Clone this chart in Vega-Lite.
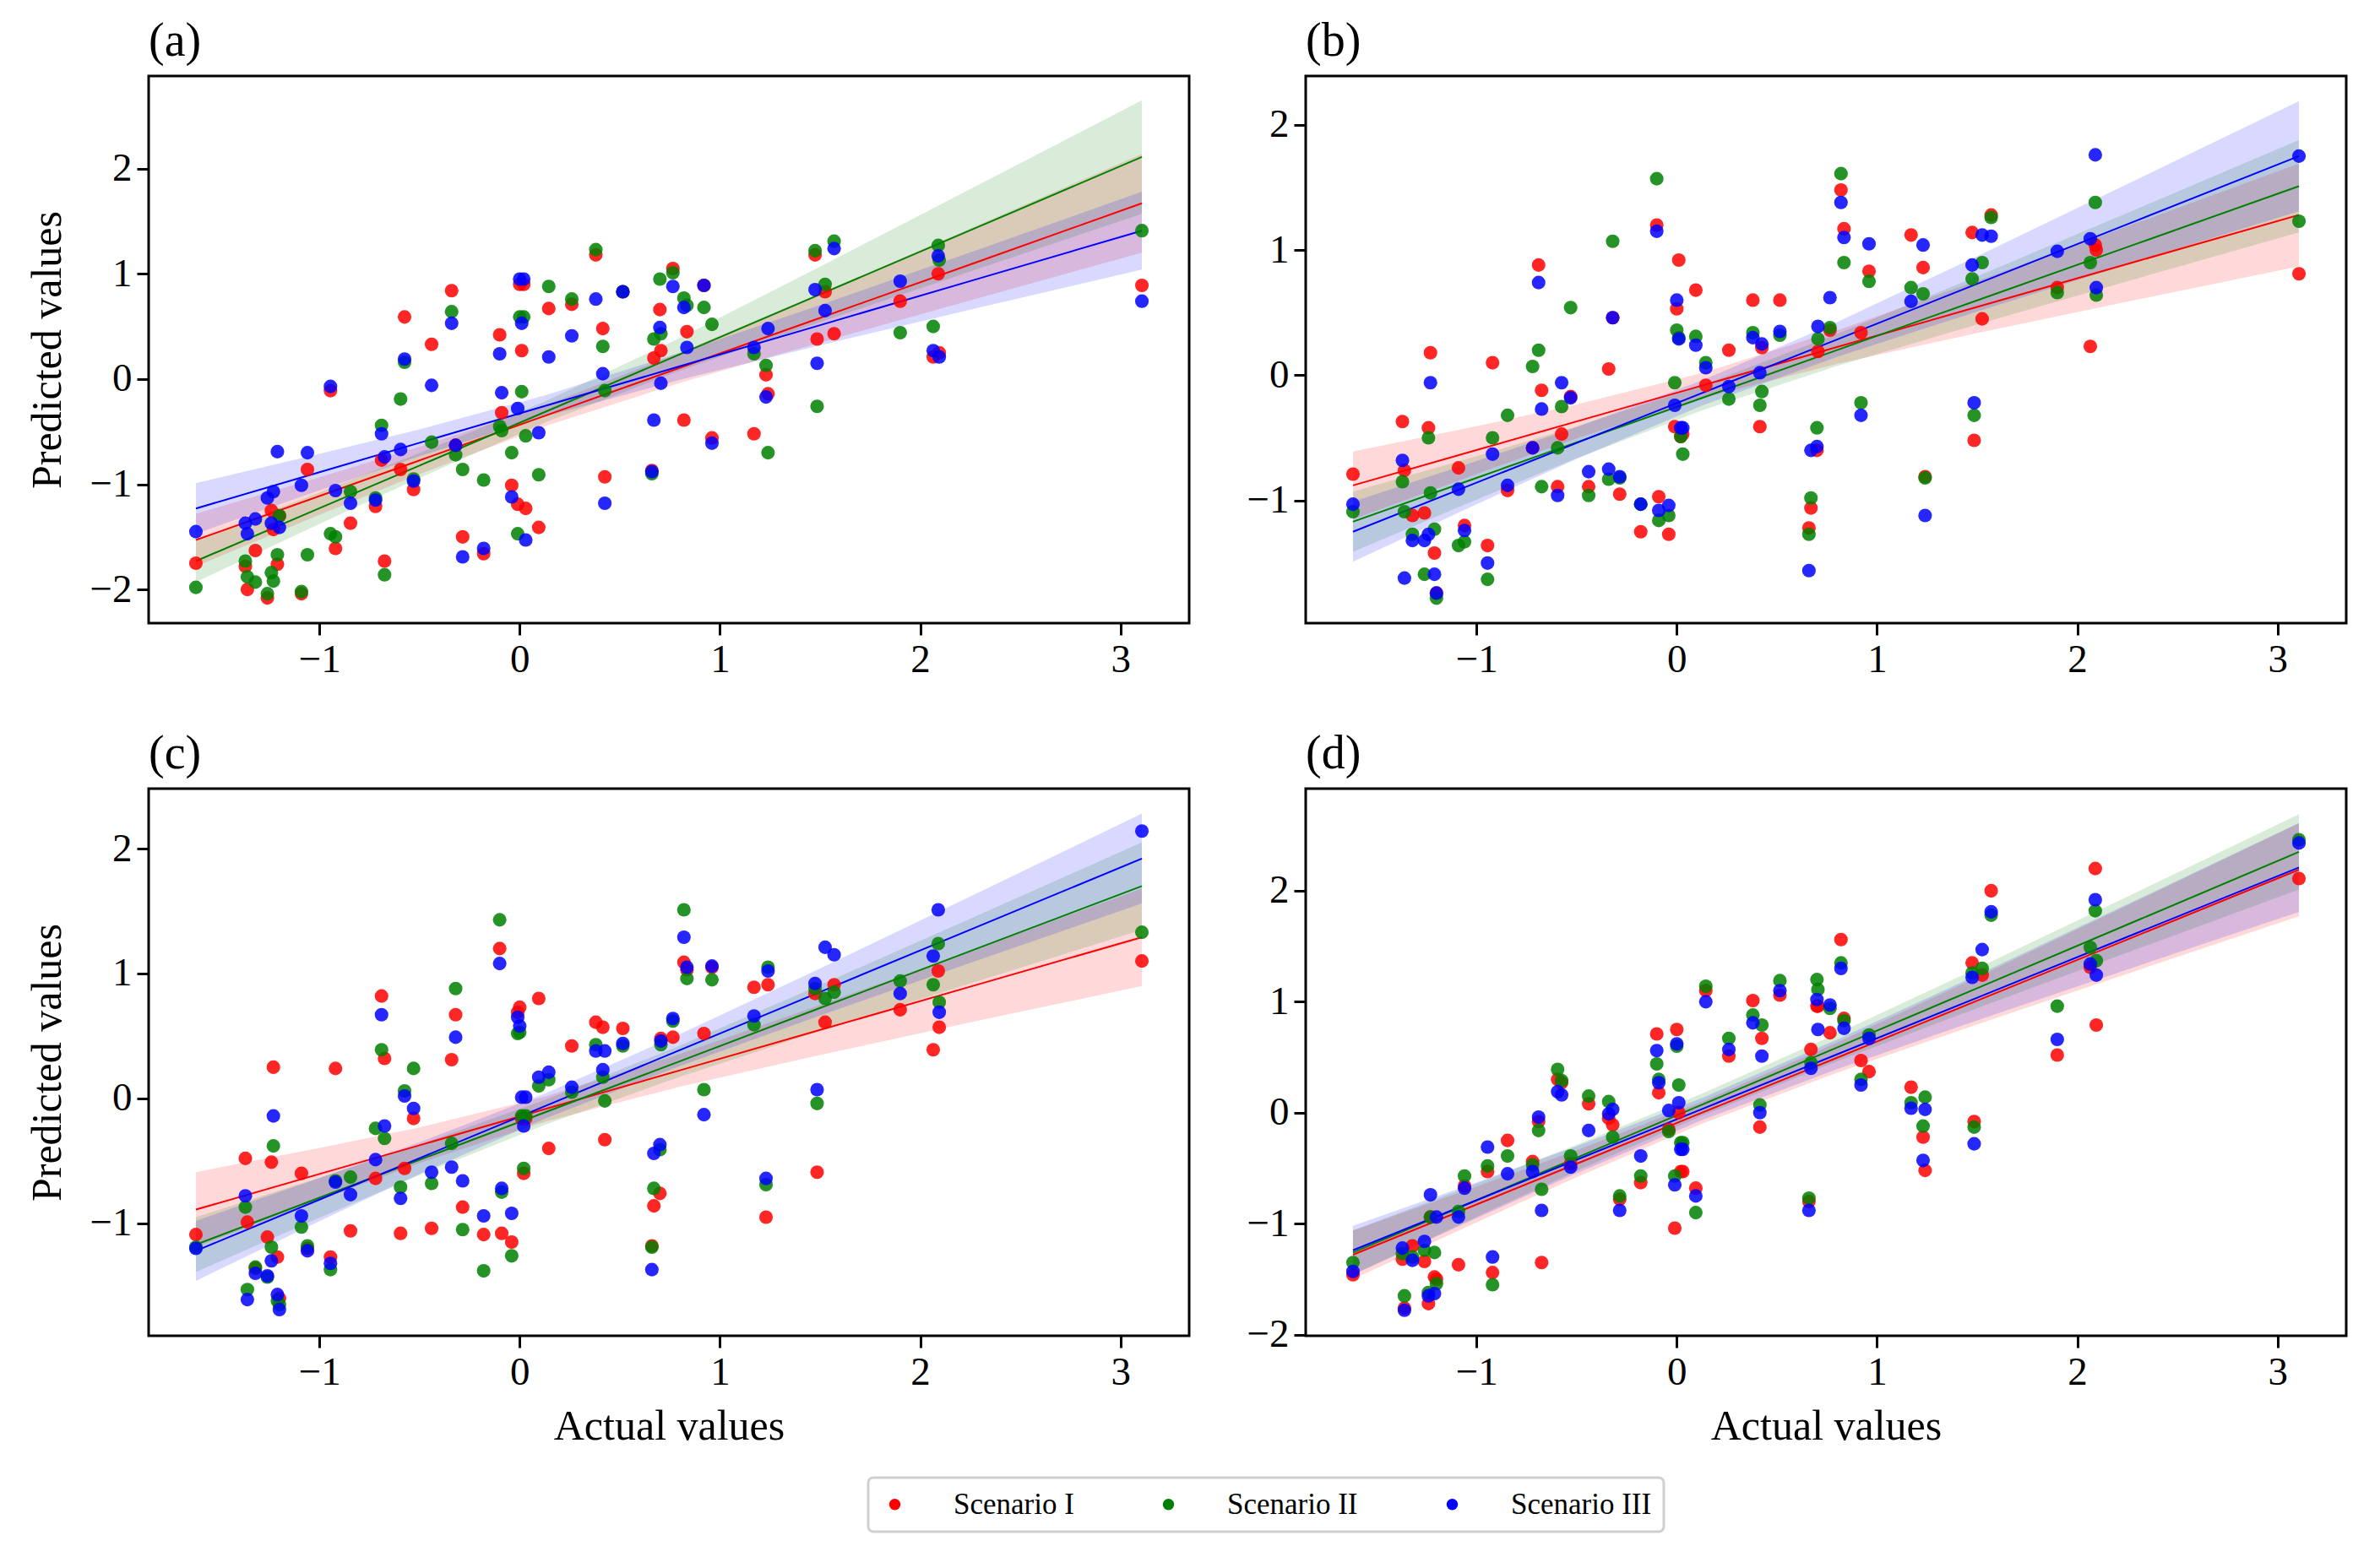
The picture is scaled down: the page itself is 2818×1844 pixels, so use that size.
{
  "$schema": "https://vega.github.io/schema/vega-lite/v6.json",
  "padding": {"left": 30, "top": 19, "right": 20, "bottom": 40},
  "background": "white",
  "datasets": {
    "pts": [
      {"p":"a","x":-1.617,"I":-1.75,"II":-1.98,"III":-1.45},
      {"p":"a","x":-1.37,"I":-1.78,"II":-1.73,"III":-1.37},
      {"p":"a","x":-1.36,"I":-2.0,"II":-1.88,"III":-1.47},
      {"p":"a","x":-1.32,"I":-1.63,"II":-1.93,"III":-1.33},
      {"p":"a","x":-1.26,"I":-2.08,"II":-2.04,"III":-1.13},
      {"p":"a","x":-1.24,"I":-1.25,"II":-1.84,"III":-1.37},
      {"p":"a","x":-1.23,"I":-1.43,"II":-1.92,"III":-1.07},
      {"p":"a","x":-1.21,"I":-1.76,"II":-1.67,"III":-0.69},
      {"p":"a","x":-1.2,"I":-1.3,"II":-1.3,"III":-1.41},
      {"p":"a","x":-1.09,"I":-2.04,"II":-2.02,"III":-1.01},
      {"p":"a","x":-1.06,"I":-0.86,"II":-1.67,"III":-0.7},
      {"p":"a","x":-0.945,"I":-0.11,"II":-1.47,"III":-0.07},
      {"p":"a","x":-0.92,"I":-1.61,"II":-1.5,"III":-1.06},
      {"p":"a","x":-0.845,"I":-1.37,"II":-1.07,"III":-1.18},
      {"p":"a","x":-0.72,"I":-1.21,"II":-1.13,"III":-1.15},
      {"p":"a","x":-0.69,"I":-0.77,"II":-0.44,"III":-0.52},
      {"p":"a","x":-0.675,"I":-1.73,"II":-1.86,"III":-0.74},
      {"p":"a","x":-0.595,"I":-0.86,"II":-0.19,"III":-0.67},
      {"p":"a","x":-0.575,"I":0.59,"II":0.16,"III":0.19},
      {"p":"a","x":-0.53,"I":-1.05,"II":-0.95,"III":-0.97},
      {"p":"a","x":-0.44,"I":0.33,"II":-0.6,"III":-0.06},
      {"p":"a","x":-0.34,"I":0.84,"II":0.64,"III":0.53},
      {"p":"a","x":-0.32,"I":-0.63,"II":-0.72,"III":-0.63},
      {"p":"a","x":-0.285,"I":-1.5,"II":-0.86,"III":-1.69},
      {"p":"a","x":-0.18,"I":-1.66,"II":-0.96,"III":-1.61},
      {"p":"a","x":-0.1,"I":0.42,"II":-0.45,"III":0.24},
      {"p":"a","x":-0.09,"I":-0.32,"II":-0.49,"III":-0.13},
      {"p":"a","x":-0.04,"I":-1.01,"II":-0.7,"III":-1.12},
      {"p":"a","x":-0.01,"I":-1.19,"II":-1.47,"III":-0.28},
      {"p":"a","x":0,"I":0.9,"II":0.59,"III":0.95},
      {"p":"a","x":0.01,"I":0.27,"II":-0.12,"III":0.53},
      {"p":"a","x":0.02,"I":0.9,"II":0.59,"III":0.95},
      {"p":"a","x":0.03,"I":-1.23,"II":-0.54,"III":-1.53},
      {"p":"a","x":0.095,"I":-1.41,"II":-0.91,"III":-0.51},
      {"p":"a","x":0.145,"I":0.67,"II":0.88,"III":0.21},
      {"p":"a","x":0.26,"I":0.71,"II":0.76,"III":0.41},
      {"p":"a","x":0.38,"I":1.18,"II":1.23,"III":0.76},
      {"p":"a","x":0.415,"I":0.48,"II":0.31,"III":0.05},
      {"p":"a","x":0.425,"I":-0.93,"II":-0.11,"III":-1.18},
      {"p":"a","x":0.515,"I":0.83,"II":0.83,"III":0.83},
      {"p":"a","x":0.66,"I":-0.87,"II":-0.9,"III":-0.88},
      {"p":"a","x":0.67,"I":0.2,"II":0.38,"III":-0.39},
      {"p":"a","x":0.7,"I":0.66,"II":0.95,"III":0.49},
      {"p":"a","x":0.705,"I":0.27,"II":0.43,"III":-0.04},
      {"p":"a","x":0.765,"I":1.05,"II":1.01,"III":0.88},
      {"p":"a","x":0.82,"I":-0.39,"II":0.77,"III":0.68},
      {"p":"a","x":0.835,"I":0.45,"II":0.7,"III":0.3},
      {"p":"a","x":0.92,"I":0.89,"II":0.68,"III":0.89},
      {"p":"a","x":0.96,"I":-0.56,"II":0.52,"III":-0.61},
      {"p":"a","x":1.17,"I":-0.52,"II":0.24,"III":0.3},
      {"p":"a","x":1.23,"I":0.04,"II":0.13,"III":-0.17},
      {"p":"a","x":1.24,"I":-0.14,"II":-0.7,"III":0.48},
      {"p":"a","x":1.475,"I":1.18,"II":1.22,"III":0.85},
      {"p":"a","x":1.485,"I":0.38,"II":-0.26,"III":0.15},
      {"p":"a","x":1.525,"I":0.83,"II":0.9,"III":0.65},
      {"p":"a","x":1.57,"I":0.43,"II":1.31,"III":1.24},
      {"p":"a","x":1.9,"I":0.74,"II":0.44,"III":0.93},
      {"p":"a","x":2.065,"I":0.21,"II":0.5,"III":0.27},
      {"p":"a","x":2.09,"I":1.0,"II":1.27,"III":1.17},
      {"p":"a","x":2.095,"I":0.25,"II":1.13,"III":0.21},
      {"p":"a","x":3.107,"I":0.89,"II":1.41,"III":0.74},

      {"p":"b","x":-1.617,"I":-0.79,"II":-1.09,"III":-1.03},
      {"p":"b","x":-1.37,"I":-0.37,"II":-0.85,"III":-0.68},
      {"p":"b","x":-1.36,"I":-0.76,"II":-1.09,"III":-1.62},
      {"p":"b","x":-1.32,"I":-1.12,"II":-1.27,"III":-1.32},
      {"p":"b","x":-1.26,"I":-1.1,"II":-1.59,"III":-1.32},
      {"p":"b","x":-1.24,"I":-0.42,"II":-0.5,"III":-1.27},
      {"p":"b","x":-1.23,"I":0.18,"II":-0.94,"III":-0.06},
      {"p":"b","x":-1.21,"I":-1.42,"II":-1.23,"III":-1.59},
      {"p":"b","x":-1.2,"I":-1.74,"II":-1.78,"III":-1.74},
      {"p":"b","x":-1.09,"I":-0.74,"II":-1.36,"III":-0.91},
      {"p":"b","x":-1.06,"I":-1.2,"II":-1.33,"III":-1.24},
      {"p":"b","x":-0.945,"I":-1.36,"II":-1.63,"III":-1.5},
      {"p":"b","x":-0.92,"I":0.1,"II":-0.5,"III":-0.63},
      {"p":"b","x":-0.845,"I":-0.92,"II":-0.32,"III":-0.88},
      {"p":"b","x":-0.72,"I":-0.58,"II":0.07,"III":-0.58},
      {"p":"b","x":-0.69,"I":0.88,"II":0.2,"III":0.74},
      {"p":"b","x":-0.675,"I":-0.12,"II":-0.89,"III":-0.27},
      {"p":"b","x":-0.595,"I":-0.89,"II":-0.58,"III":-0.96},
      {"p":"b","x":-0.575,"I":-0.47,"II":-0.25,"III":-0.06},
      {"p":"b","x":-0.53,"I":-0.17,"II":0.54,"III":-0.18},
      {"p":"b","x":-0.44,"I":-0.89,"II":-0.96,"III":-0.77},
      {"p":"b","x":-0.34,"I":0.05,"II":-0.83,"III":-0.75},
      {"p":"b","x":-0.32,"I":0.46,"II":1.07,"III":0.46},
      {"p":"b","x":-0.285,"I":-0.95,"II":-0.82,"III":-0.81},
      {"p":"b","x":-0.18,"I":-1.25,"II":-1.03,"III":-1.03},
      {"p":"b","x":-0.1,"I":1.2,"II":1.57,"III":1.15},
      {"p":"b","x":-0.09,"I":-0.97,"II":-1.16,"III":-1.08},
      {"p":"b","x":-0.04,"I":-1.27,"II":-1.12,"III":-1.04},
      {"p":"b","x":-0.01,"I":-0.41,"II":-0.06,"III":-0.24},
      {"p":"b","x":0,"I":0.53,"II":0.36,"III":0.6},
      {"p":"b","x":0.01,"I":0.92,"II":0.3,"III":0.29},
      {"p":"b","x":0.02,"I":-0.49,"II":-0.49,"III":-0.42},
      {"p":"b","x":0.03,"I":-0.47,"II":-0.63,"III":-0.42},
      {"p":"b","x":0.095,"I":0.68,"II":0.31,"III":0.24},
      {"p":"b","x":0.145,"I":-0.08,"II":0.1,"III":0.06},
      {"p":"b","x":0.26,"I":0.2,"II":-0.19,"III":-0.09},
      {"p":"b","x":0.38,"I":0.6,"II":0.34,"III":0.3},
      {"p":"b","x":0.415,"I":-0.41,"II":-0.24,"III":0.02},
      {"p":"b","x":0.425,"I":0.22,"II":-0.13,"III":0.25},
      {"p":"b","x":0.515,"I":0.6,"II":0.32,"III":0.35},
      {"p":"b","x":0.66,"I":-1.22,"II":-1.27,"III":-1.56},
      {"p":"b","x":0.67,"I":-1.06,"II":-0.98,"III":-0.6},
      {"p":"b","x":0.7,"I":-0.6,"II":-0.42,"III":-0.57},
      {"p":"b","x":0.705,"I":0.19,"II":0.29,"III":0.39},
      {"p":"b","x":0.765,"I":0.36,"II":0.38,"III":0.62},
      {"p":"b","x":0.82,"I":1.48,"II":1.61,"III":1.38},
      {"p":"b","x":0.835,"I":1.17,"II":0.9,"III":1.1},
      {"p":"b","x":0.92,"I":0.34,"II":-0.22,"III":-0.32},
      {"p":"b","x":0.96,"I":0.83,"II":0.75,"III":1.05},
      {"p":"b","x":1.17,"I":1.12,"II":0.7,"III":0.59},
      {"p":"b","x":1.23,"I":0.86,"II":0.65,"III":1.04},
      {"p":"b","x":1.24,"I":-0.81,"II":-0.82,"III":-1.12},
      {"p":"b","x":1.475,"I":1.14,"II":0.77,"III":0.88},
      {"p":"b","x":1.485,"I":-0.52,"II":-0.32,"III":-0.22},
      {"p":"b","x":1.525,"I":0.45,"II":0.9,"III":1.12},
      {"p":"b","x":1.57,"I":1.28,"II":1.26,"III":1.11},
      {"p":"b","x":1.9,"I":0.7,"II":0.66,"III":0.99},
      {"p":"b","x":2.065,"I":0.23,"II":0.9,"III":1.09},
      {"p":"b","x":2.09,"I":1.04,"II":1.38,"III":1.76},
      {"p":"b","x":2.095,"I":1.0,"II":0.64,"III":0.7},
      {"p":"b","x":3.107,"I":0.81,"II":1.23,"III":1.75},

      {"p":"c","x":-1.617,"I":-1.09,"II":-1.19,"III":-1.2},
      {"p":"c","x":-1.37,"I":-0.48,"II":-0.87,"III":-0.78},
      {"p":"c","x":-1.36,"I":-0.99,"II":-1.53,"III":-1.61},
      {"p":"c","x":-1.32,"I":-1.36,"II":-1.35,"III":-1.4},
      {"p":"c","x":-1.26,"I":-1.11,"II":-1.43,"III":-1.42},
      {"p":"c","x":-1.24,"I":-0.51,"II":-1.19,"III":-1.3},
      {"p":"c","x":-1.23,"I":0.25,"II":-0.38,"III":-0.14},
      {"p":"c","x":-1.21,"I":-1.27,"II":-1.62,"III":-1.57},
      {"p":"c","x":-1.2,"I":-1.6,"II":-1.65,"III":-1.69},
      {"p":"c","x":-1.09,"I":-0.6,"II":-1.03,"III":-0.94},
      {"p":"c","x":-1.06,"I":-1.2,"II":-1.18,"III":-1.22},
      {"p":"c","x":-0.945,"I":-1.27,"II":-1.37,"III":-1.32},
      {"p":"c","x":-0.92,"I":0.24,"II":-0.66,"III":-0.67},
      {"p":"c","x":-0.845,"I":-1.06,"II":-0.63,"III":-0.77},
      {"p":"c","x":-0.72,"I":-0.64,"II":-0.24,"III":-0.49},
      {"p":"c","x":-0.69,"I":0.82,"II":0.39,"III":0.67},
      {"p":"c","x":-0.675,"I":0.32,"II":-0.32,"III":-0.22},
      {"p":"c","x":-0.595,"I":-1.08,"II":-0.71,"III":-0.8},
      {"p":"c","x":-0.575,"I":-0.56,"II":0.06,"III":0.02},
      {"p":"c","x":-0.53,"I":-0.16,"II":0.24,"III":-0.08},
      {"p":"c","x":-0.44,"I":-1.04,"II":-0.68,"III":-0.59},
      {"p":"c","x":-0.34,"I":0.31,"II":-0.36,"III":-0.55},
      {"p":"c","x":-0.32,"I":0.67,"II":0.88,"III":0.49},
      {"p":"c","x":-0.285,"I":-0.87,"II":-1.05,"III":-0.66},
      {"p":"c","x":-0.18,"I":-1.09,"II":-1.38,"III":-0.94},
      {"p":"c","x":-0.1,"I":1.2,"II":1.43,"III":1.08},
      {"p":"c","x":-0.09,"I":-1.08,"II":-0.75,"III":-0.72},
      {"p":"c","x":-0.04,"I":-1.15,"II":-1.26,"III":-0.92},
      {"p":"c","x":-0.01,"I":0.69,"II":0.52,"III":0.65},
      {"p":"c","x":0,"I":0.73,"II":0.53,"III":0.58},
      {"p":"c","x":0.01,"I":-0.16,"II":-0.14,"III":0.01},
      {"p":"c","x":0.02,"I":-0.6,"II":-0.56,"III":-0.22},
      {"p":"c","x":0.03,"I":-0.16,"II":-0.14,"III":0.01},
      {"p":"c","x":0.095,"I":0.8,"II":0.1,"III":0.17},
      {"p":"c","x":0.145,"I":-0.4,"II":0.15,"III":0.21},
      {"p":"c","x":0.26,"I":0.42,"II":0.05,"III":0.09},
      {"p":"c","x":0.38,"I":0.61,"II":0.43,"III":0.38},
      {"p":"c","x":0.415,"I":0.57,"II":0.17,"III":0.23},
      {"p":"c","x":0.425,"I":-0.33,"II":-0.02,"III":0.38},
      {"p":"c","x":0.515,"I":0.56,"II":0.42,"III":0.44},
      {"p":"c","x":0.66,"I":-1.18,"II":-1.19,"III":-1.37},
      {"p":"c","x":0.67,"I":-0.86,"II":-0.72,"III":-0.44},
      {"p":"c","x":0.7,"I":-0.76,"II":-0.41,"III":-0.37},
      {"p":"c","x":0.705,"I":0.48,"II":0.43,"III":0.46},
      {"p":"c","x":0.765,"I":0.49,"II":0.62,"III":0.64},
      {"p":"c","x":0.82,"I":1.09,"II":1.51,"III":1.29},
      {"p":"c","x":0.835,"I":1.03,"II":0.96,"III":1.05},
      {"p":"c","x":0.92,"I":0.52,"II":0.07,"III":-0.13},
      {"p":"c","x":0.96,"I":1.05,"II":0.95,"III":1.06},
      {"p":"c","x":1.17,"I":0.89,"II":0.59,"III":0.66},
      {"p":"c","x":1.23,"I":-0.95,"II":-0.69,"III":-0.64},
      {"p":"c","x":1.24,"I":0.91,"II":1.05,"III":1.02},
      {"p":"c","x":1.475,"I":0.84,"II":0.88,"III":0.92},
      {"p":"c","x":1.485,"I":-0.59,"II":-0.04,"III":0.07},
      {"p":"c","x":1.525,"I":0.61,"II":0.8,"III":1.21},
      {"p":"c","x":1.57,"I":0.91,"II":0.85,"III":1.15},
      {"p":"c","x":1.9,"I":0.71,"II":0.94,"III":0.84},
      {"p":"c","x":2.065,"I":0.39,"II":0.91,"III":1.14},
      {"p":"c","x":2.09,"I":1.02,"II":1.24,"III":1.51},
      {"p":"c","x":2.095,"I":0.57,"II":0.77,"III":0.69},
      {"p":"c","x":3.107,"I":1.1,"II":1.33,"III":2.14},

      {"p":"d","x":-1.617,"I":-1.46,"II":-1.35,"III":-1.43},
      {"p":"d","x":-1.37,"I":-1.32,"II":-1.27,"III":-1.22},
      {"p":"d","x":-1.36,"I":-1.76,"II":-1.65,"III":-1.78},
      {"p":"d","x":-1.32,"I":-1.2,"II":-1.3,"III":-1.33},
      {"p":"d","x":-1.26,"I":-1.34,"II":-1.24,"III":-1.16},
      {"p":"d","x":-1.24,"I":-1.72,"II":-1.62,"III":-1.65},
      {"p":"d","x":-1.23,"I":-0.94,"II":-0.94,"III":-0.74},
      {"p":"d","x":-1.21,"I":-1.48,"II":-1.26,"III":-1.63},
      {"p":"d","x":-1.2,"I":-1.5,"II":-1.54,"III":-0.94},
      {"p":"d","x":-1.09,"I":-1.37,"II":-0.89,"III":-0.94},
      {"p":"d","x":-1.06,"I":-0.66,"II":-0.57,"III":-0.68},
      {"p":"d","x":-0.945,"I":-0.53,"II":-0.48,"III":-0.31},
      {"p":"d","x":-0.92,"I":-1.44,"II":-1.55,"III":-1.3},
      {"p":"d","x":-0.845,"I":-0.25,"II":-0.39,"III":-0.55},
      {"p":"d","x":-0.72,"I":-0.44,"II":-0.47,"III":-0.53},
      {"p":"d","x":-0.69,"I":-0.08,"II":-0.16,"III":-0.04},
      {"p":"d","x":-0.675,"I":-1.35,"II":-0.69,"III":-0.88},
      {"p":"d","x":-0.595,"I":0.3,"II":0.39,"III":0.19},
      {"p":"d","x":-0.575,"I":0.27,"II":0.29,"III":0.16},
      {"p":"d","x":-0.53,"I":-0.46,"II":-0.39,"III":-0.49},
      {"p":"d","x":-0.44,"I":0.08,"II":0.15,"III":-0.16},
      {"p":"d","x":-0.34,"I":-0.05,"II":0.1,"III":-0.01},
      {"p":"d","x":-0.32,"I":-0.11,"II":-0.22,"III":0.03},
      {"p":"d","x":-0.285,"I":-0.78,"II":-0.75,"III":-0.88},
      {"p":"d","x":-0.18,"I":-0.63,"II":-0.57,"III":-0.39},
      {"p":"d","x":-0.1,"I":0.71,"II":0.44,"III":0.56},
      {"p":"d","x":-0.09,"I":0.18,"II":0.3,"III":0.27},
      {"p":"d","x":-0.04,"I":-0.15,"II":-0.17,"III":0.02},
      {"p":"d","x":-0.01,"I":-1.04,"II":-0.57,"III":-0.65},
      {"p":"d","x":0,"I":0.75,"II":0.6,"III":0.62},
      {"p":"d","x":0.01,"I":0.0,"II":0.25,"III":0.09},
      {"p":"d","x":0.02,"I":-0.53,"II":-0.27,"III":-0.33},
      {"p":"d","x":0.03,"I":-0.53,"II":-0.27,"III":-0.33},
      {"p":"d","x":0.095,"I":-0.68,"II":-0.9,"III":-0.75},
      {"p":"d","x":0.145,"I":1.1,"II":1.14,"III":1.0},
      {"p":"d","x":0.26,"I":0.51,"II":0.67,"III":0.57},
      {"p":"d","x":0.38,"I":1.01,"II":0.88,"III":0.81},
      {"p":"d","x":0.415,"I":-0.13,"II":0.07,"III":0.0},
      {"p":"d","x":0.425,"I":0.67,"II":0.79,"III":0.51},
      {"p":"d","x":0.515,"I":1.06,"II":1.19,"III":1.1},
      {"p":"d","x":0.66,"I":-0.8,"II":-0.77,"III":-0.88},
      {"p":"d","x":0.67,"I":0.57,"II":0.45,"III":0.4},
      {"p":"d","x":0.7,"I":0.96,"II":1.2,"III":1.02},
      {"p":"d","x":0.705,"I":0.96,"II":1.11,"III":0.75},
      {"p":"d","x":0.765,"I":0.72,"II":0.94,"III":0.97},
      {"p":"d","x":0.82,"I":1.56,"II":1.35,"III":1.3},
      {"p":"d","x":0.835,"I":0.85,"II":0.83,"III":0.76},
      {"p":"d","x":0.92,"I":0.47,"II":0.3,"III":0.25},
      {"p":"d","x":0.96,"I":0.37,"II":0.7,"III":0.67},
      {"p":"d","x":1.17,"I":0.23,"II":0.09,"III":0.04},
      {"p":"d","x":1.23,"I":-0.22,"II":-0.12,"III":-0.43},
      {"p":"d","x":1.24,"I":-0.52,"II":0.14,"III":0.03},
      {"p":"d","x":1.475,"I":1.35,"II":1.26,"III":1.22},
      {"p":"d","x":1.485,"I":-0.08,"II":-0.13,"III":-0.28},
      {"p":"d","x":1.525,"I":1.24,"II":1.3,"III":1.47},
      {"p":"d","x":1.57,"I":2.0,"II":1.78,"III":1.81},
      {"p":"d","x":1.9,"I":0.52,"II":0.96,"III":0.66},
      {"p":"d","x":2.065,"I":1.31,"II":1.49,"III":1.34},
      {"p":"d","x":2.09,"I":2.2,"II":1.82,"III":1.92},
      {"p":"d","x":2.095,"I":0.79,"II":1.37,"III":1.24},
      {"p":"d","x":3.107,"I":2.11,"II":2.46,"III":2.43}
    ],
    "fit": [
      {"p":"a","s":"I","x":-1.617,"fit":-1.53,"lo":-1.78,"hi":-1.28},
      {"p":"a","s":"I","x":-1.0,"fit":-1.112,"lo":-1.291,"hi":-0.933},
      {"p":"a","s":"I","x":-0.5,"fit":-0.773,"lo":-0.903,"hi":-0.643},
      {"p":"a","s":"I","x":0.13,"fit":-0.347,"lo":-0.447,"hi":-0.247},
      {"p":"a","s":"I","x":0.8,"fit":0.107,"lo":-0.037,"hi":0.251},
      {"p":"a","s":"I","x":1.5,"fit":0.581,"lo":0.347,"hi":0.815},
      {"p":"a","s":"I","x":2.3,"fit":1.123,"lo":0.774,"hi":1.472},
      {"p":"a","s":"I","x":3.107,"fit":1.67,"lo":1.2,"hi":2.14},
      {"p":"a","s":"II","x":-1.617,"fit":-1.73,"lo":-1.93,"hi":-1.53},
      {"p":"a","s":"II","x":-1.0,"fit":-1.228,"lo":-1.378,"hi":-1.078},
      {"p":"a","s":"II","x":-0.5,"fit":-0.822,"lo":-0.94,"hi":-0.704},
      {"p":"a","s":"II","x":0.13,"fit":-0.31,"lo":-0.41,"hi":-0.21},
      {"p":"a","s":"II","x":0.8,"fit":0.235,"lo":0.079,"hi":0.391},
      {"p":"a","s":"II","x":1.5,"fit":0.804,"lo":0.54,"hi":1.068},
      {"p":"a","s":"II","x":2.3,"fit":1.454,"lo":1.054,"hi":1.854},
      {"p":"a","s":"II","x":3.107,"fit":2.11,"lo":1.57,"hi":2.65},
      {"p":"a","s":"III","x":-1.617,"fit":-1.23,"lo":-1.47,"hi":-0.99},
      {"p":"a","s":"III","x":-1.0,"fit":-0.885,"lo":-1.058,"hi":-0.712},
      {"p":"a","s":"III","x":-0.5,"fit":-0.606,"lo":-0.733,"hi":-0.479},
      {"p":"a","s":"III","x":0.13,"fit":-0.254,"lo":-0.354,"hi":-0.154},
      {"p":"a","s":"III","x":0.8,"fit":0.121,"lo":-0.007,"hi":0.249},
      {"p":"a","s":"III","x":1.5,"fit":0.512,"lo":0.32,"hi":0.704},
      {"p":"a","s":"III","x":2.3,"fit":0.959,"lo":0.681,"hi":1.237},
      {"p":"a","s":"III","x":3.107,"fit":1.41,"lo":1.04,"hi":1.78},

      {"p":"b","s":"I","x":-1.617,"fit":-0.88,"lo":-1.15,"hi":-0.61},
      {"p":"b","s":"I","x":-1.0,"fit":-0.598,"lo":-0.789,"hi":-0.407},
      {"p":"b","s":"I","x":-0.5,"fit":-0.369,"lo":-0.504,"hi":-0.234},
      {"p":"b","s":"I","x":0.13,"fit":-0.081,"lo":-0.181,"hi":0.019},
      {"p":"b","s":"I","x":0.8,"fit":0.225,"lo":0.091,"hi":0.359},
      {"p":"b","s":"I","x":1.5,"fit":0.545,"lo":0.337,"hi":0.753},
      {"p":"b","s":"I","x":2.3,"fit":0.911,"lo":0.604,"hi":1.218},
      {"p":"b","s":"I","x":3.107,"fit":1.28,"lo":0.87,"hi":1.69},
      {"p":"b","s":"II","x":-1.617,"fit":-1.17,"lo":-1.41,"hi":-0.93},
      {"p":"b","s":"II","x":-1.0,"fit":-0.82,"lo":-0.993,"hi":-0.647},
      {"p":"b","s":"II","x":-0.5,"fit":-0.536,"lo":-0.663,"hi":-0.409},
      {"p":"b","s":"II","x":0.13,"fit":-0.179,"lo":-0.279,"hi":-0.079},
      {"p":"b","s":"II","x":0.8,"fit":0.201,"lo":0.073,"hi":0.329},
      {"p":"b","s":"II","x":1.5,"fit":0.598,"lo":0.406,"hi":0.79},
      {"p":"b","s":"II","x":2.3,"fit":1.052,"lo":0.774,"hi":1.33},
      {"p":"b","s":"II","x":3.107,"fit":1.51,"lo":1.14,"hi":1.88},
      {"p":"b","s":"III","x":-1.617,"fit":-1.25,"lo":-1.49,"hi":-1.01},
      {"p":"b","s":"III","x":-1.0,"fit":-0.858,"lo":-1.031,"hi":-0.685},
      {"p":"b","s":"III","x":-0.5,"fit":-0.541,"lo":-0.668,"hi":-0.414},
      {"p":"b","s":"III","x":0.13,"fit":-0.14,"lo":-0.24,"hi":-0.04},
      {"p":"b","s":"III","x":0.8,"fit":0.285,"lo":0.146,"hi":0.424},
      {"p":"b","s":"III","x":1.5,"fit":0.73,"lo":0.509,"hi":0.951},
      {"p":"b","s":"III","x":2.3,"fit":1.238,"lo":0.91,"hi":1.566},
      {"p":"b","s":"III","x":3.107,"fit":1.75,"lo":1.31,"hi":2.19},

      {"p":"c","s":"I","x":-1.617,"fit":-0.89,"lo":-1.19,"hi":-0.59},
      {"p":"c","s":"I","x":-1.0,"fit":-0.605,"lo":-0.814,"hi":-0.396},
      {"p":"c","s":"I","x":-0.5,"fit":-0.375,"lo":-0.518,"hi":-0.232},
      {"p":"c","s":"I","x":0.13,"fit":-0.084,"lo":-0.184,"hi":0.016},
      {"p":"c","s":"I","x":0.8,"fit":0.225,"lo":0.094,"hi":0.356},
      {"p":"c","s":"I","x":1.5,"fit":0.548,"lo":0.348,"hi":0.748},
      {"p":"c","s":"I","x":2.3,"fit":0.918,"lo":0.626,"hi":1.21},
      {"p":"c","s":"I","x":3.107,"fit":1.29,"lo":0.9,"hi":1.68},
      {"p":"c","s":"II","x":-1.617,"fit":-1.17,"lo":-1.39,"hi":-0.95},
      {"p":"c","s":"II","x":-1.0,"fit":-0.795,"lo":-0.956,"hi":-0.634},
      {"p":"c","s":"II","x":-0.5,"fit":-0.491,"lo":-0.613,"hi":-0.369},
      {"p":"c","s":"II","x":0.13,"fit":-0.109,"lo":-0.209,"hi":-0.009},
      {"p":"c","s":"II","x":0.8,"fit":0.298,"lo":0.173,"hi":0.423},
      {"p":"c","s":"II","x":1.5,"fit":0.724,"lo":0.54,"hi":0.908},
      {"p":"c","s":"II","x":2.3,"fit":1.21,"lo":0.946,"hi":1.474},
      {"p":"c","s":"II","x":3.107,"fit":1.7,"lo":1.35,"hi":2.05},
      {"p":"c","s":"III","x":-1.617,"fit":-1.22,"lo":-1.46,"hi":-0.98},
      {"p":"c","s":"III","x":-1.0,"fit":-0.81,"lo":-0.983,"hi":-0.637},
      {"p":"c","s":"III","x":-0.5,"fit":-0.478,"lo":-0.605,"hi":-0.351},
      {"p":"c","s":"III","x":0.13,"fit":-0.059,"lo":-0.159,"hi":0.041},
      {"p":"c","s":"III","x":0.8,"fit":0.387,"lo":0.26,"hi":0.514},
      {"p":"c","s":"III","x":1.5,"fit":0.852,"lo":0.664,"hi":1.04},
      {"p":"c","s":"III","x":2.3,"fit":1.384,"lo":1.113,"hi":1.655},
      {"p":"c","s":"III","x":3.107,"fit":1.92,"lo":1.56,"hi":2.28},

      {"p":"d","s":"I","x":-1.617,"fit":-1.28,"lo":-1.5,"hi":-1.06},
      {"p":"d","s":"I","x":-1.0,"fit":-0.827,"lo":-0.988,"hi":-0.666},
      {"p":"d","s":"I","x":-0.5,"fit":-0.46,"lo":-0.582,"hi":-0.338},
      {"p":"d","s":"I","x":0.13,"fit":0.003,"lo":-0.097,"hi":0.103},
      {"p":"d","s":"I","x":0.8,"fit":0.495,"lo":0.359,"hi":0.631},
      {"p":"d","s":"I","x":1.5,"fit":1.009,"lo":0.796,"hi":1.222},
      {"p":"d","s":"I","x":2.3,"fit":1.597,"lo":1.283,"hi":1.911},
      {"p":"d","s":"I","x":3.107,"fit":2.19,"lo":1.77,"hi":2.61},
      {"p":"d","s":"II","x":-1.617,"fit":-1.26,"lo":-1.46,"hi":-1.06},
      {"p":"d","s":"II","x":-1.0,"fit":-0.789,"lo":-0.939,"hi":-0.639},
      {"p":"d","s":"II","x":-0.5,"fit":-0.406,"lo":-0.524,"hi":-0.288},
      {"p":"d","s":"II","x":0.13,"fit":0.075,"lo":-0.025,"hi":0.175},
      {"p":"d","s":"II","x":0.8,"fit":0.587,"lo":0.463,"hi":0.711},
      {"p":"d","s":"II","x":1.5,"fit":1.122,"lo":0.942,"hi":1.302},
      {"p":"d","s":"II","x":2.3,"fit":1.733,"lo":1.476,"hi":1.99},
      {"p":"d","s":"II","x":3.107,"fit":2.35,"lo":2.01,"hi":2.69},
      {"p":"d","s":"III","x":-1.617,"fit":-1.24,"lo":-1.46,"hi":-1.02},
      {"p":"d","s":"III","x":-1.0,"fit":-0.789,"lo":-0.95,"hi":-0.628},
      {"p":"d","s":"III","x":-0.5,"fit":-0.424,"lo":-0.546,"hi":-0.302},
      {"p":"d","s":"III","x":0.13,"fit":0.036,"lo":-0.064,"hi":0.136},
      {"p":"d","s":"III","x":0.8,"fit":0.525,"lo":0.392,"hi":0.658},
      {"p":"d","s":"III","x":1.5,"fit":1.036,"lo":0.832,"hi":1.24},
      {"p":"d","s":"III","x":2.3,"fit":1.621,"lo":1.321,"hi":1.921},
      {"p":"d","s":"III","x":3.107,"fit":2.21,"lo":1.81,"hi":2.61}
    ]
  },
  "columns": 2,
  "spacing": {"row": 196, "column": 138},
  "bounds": "flush",
  "concat": [
    {
      "width": 1232, "height": 648, "title": "(a)",
      "encoding": {"x": {"field": "x", "type": "quantitative", "scale": {"domain": [-1.853, 3.343], "nice": false, "zero": false}, "axis": {"values": [-1, 0, 1, 2, 3], "format": "d", "title": null}}},
      "layer": [
        {"data": {"name": "fit"}, "transform": [{"filter": "datum.p == 'a'"}], "mark": {"type": "area", "opacity": 0.15},
         "encoding": {"y": {"field": "lo", "type": "quantitative", "scale": {"domain": [-2.32, 2.88], "nice": false, "zero": false}, "axis": {"values": [-2, -1, 0, 1, 2], "format": "d", "title": "Predicted values"}}, "y2": {"field": "hi"},
                      "fill": {"field": "s", "type": "nominal", "scale": {"range": ["#ff0000", "#008000", "#0000ff"]}, "legend": null}}},
        {"data": {"name": "fit"}, "transform": [{"filter": "datum.p == 'a'"}], "mark": {"type": "line", "strokeWidth": 2},
         "encoding": {"y": {"field": "fit", "type": "quantitative", "scale": {"domain": [-2.32, 2.88], "nice": false, "zero": false}, "axis": {"values": [-2, -1, 0, 1, 2], "format": "d", "title": "Predicted values"}},
                      "stroke": {"field": "s", "type": "nominal", "scale": {"range": ["#ff0000", "#008000", "#0000ff"]}, "legend": null}}},
        {"data": {"name": "pts"}, "transform": [{"filter": "datum.p == 'a'"}, {"fold": ["I", "II", "III"], "as": ["s", "y"]}], "mark": {"type": "circle", "size": 260, "opacity": 0.85},
         "encoding": {"y": {"field": "y", "type": "quantitative", "scale": {"domain": [-2.32, 2.88], "nice": false, "zero": false}, "axis": {"values": [-2, -1, 0, 1, 2], "format": "d", "title": "Predicted values"}},
                      "color": {"field": "s", "type": "nominal", "scale": {"domain": ["I", "II", "III"], "range": ["#ff0000", "#008000", "#0000ff"]}, "legend": {"title": null, "labelExpr": "'Scenario ' + datum.label", "orient": "none", "legendX": 852, "legendY": 1660, "direction": "horizontal"}},
                      "order": {"field": "s"}}}
      ]
    },
    {
      "width": 1232, "height": 648, "title": "(b)",
      "encoding": {"x": {"field": "x", "type": "quantitative", "scale": {"domain": [-1.853, 3.343], "nice": false, "zero": false}, "axis": {"values": [-1, 0, 1, 2, 3], "format": "d", "title": null}}},
      "layer": [
        {"data": {"name": "fit"}, "transform": [{"filter": "datum.p == 'b'"}], "mark": {"type": "area", "opacity": 0.15},
         "encoding": {"y": {"field": "lo", "type": "quantitative", "scale": {"domain": [-1.98, 2.39], "nice": false, "zero": false}, "axis": {"values": [-1, 0, 1, 2], "format": "d", "title": null}}, "y2": {"field": "hi"},
                      "fill": {"field": "s", "type": "nominal", "scale": {"range": ["#ff0000", "#008000", "#0000ff"]}, "legend": null}}},
        {"data": {"name": "fit"}, "transform": [{"filter": "datum.p == 'b'"}], "mark": {"type": "line", "strokeWidth": 2},
         "encoding": {"y": {"field": "fit", "type": "quantitative", "scale": {"domain": [-1.98, 2.39], "nice": false, "zero": false}, "axis": {"values": [-1, 0, 1, 2], "format": "d", "title": null}},
                      "stroke": {"field": "s", "type": "nominal", "scale": {"range": ["#ff0000", "#008000", "#0000ff"]}, "legend": null}}},
        {"data": {"name": "pts"}, "transform": [{"filter": "datum.p == 'b'"}, {"fold": ["I", "II", "III"], "as": ["s", "y"]}], "mark": {"type": "circle", "size": 260, "opacity": 0.85},
         "encoding": {"y": {"field": "y", "type": "quantitative", "scale": {"domain": [-1.98, 2.39], "nice": false, "zero": false}, "axis": {"values": [-1, 0, 1, 2], "format": "d", "title": null}},
                      "color": {"field": "s", "type": "nominal", "scale": {"domain": ["I", "II", "III"], "range": ["#ff0000", "#008000", "#0000ff"]}, "legend": {"title": null, "labelExpr": "'Scenario ' + datum.label", "orient": "none", "legendX": 852, "legendY": 1660, "direction": "horizontal"}},
                      "order": {"field": "s"}}}
      ]
    },
    {
      "width": 1232, "height": 648, "title": "(c)",
      "encoding": {"x": {"field": "x", "type": "quantitative", "scale": {"domain": [-1.853, 3.343], "nice": false, "zero": false}, "axis": {"values": [-1, 0, 1, 2, 3], "format": "d", "title": "Actual values"}}},
      "layer": [
        {"data": {"name": "fit"}, "transform": [{"filter": "datum.p == 'c'"}], "mark": {"type": "area", "opacity": 0.15},
         "encoding": {"y": {"field": "lo", "type": "quantitative", "scale": {"domain": [-1.9, 2.48], "nice": false, "zero": false}, "axis": {"values": [-1, 0, 1, 2], "format": "d", "title": "Predicted values"}}, "y2": {"field": "hi"},
                      "fill": {"field": "s", "type": "nominal", "scale": {"range": ["#ff0000", "#008000", "#0000ff"]}, "legend": null}}},
        {"data": {"name": "fit"}, "transform": [{"filter": "datum.p == 'c'"}], "mark": {"type": "line", "strokeWidth": 2},
         "encoding": {"y": {"field": "fit", "type": "quantitative", "scale": {"domain": [-1.9, 2.48], "nice": false, "zero": false}, "axis": {"values": [-1, 0, 1, 2], "format": "d", "title": "Predicted values"}},
                      "stroke": {"field": "s", "type": "nominal", "scale": {"range": ["#ff0000", "#008000", "#0000ff"]}, "legend": null}}},
        {"data": {"name": "pts"}, "transform": [{"filter": "datum.p == 'c'"}, {"fold": ["I", "II", "III"], "as": ["s", "y"]}], "mark": {"type": "circle", "size": 260, "opacity": 0.85},
         "encoding": {"y": {"field": "y", "type": "quantitative", "scale": {"domain": [-1.9, 2.48], "nice": false, "zero": false}, "axis": {"values": [-1, 0, 1, 2], "format": "d", "title": "Predicted values"}},
                      "color": {"field": "s", "type": "nominal", "scale": {"domain": ["I", "II", "III"], "range": ["#ff0000", "#008000", "#0000ff"]}, "legend": {"title": null, "labelExpr": "'Scenario ' + datum.label", "orient": "none", "legendX": 852, "legendY": 1660, "direction": "horizontal"}},
                      "order": {"field": "s"}}}
      ]
    },
    {
      "width": 1232, "height": 648, "title": "(d)",
      "encoding": {"x": {"field": "x", "type": "quantitative", "scale": {"domain": [-1.853, 3.343], "nice": false, "zero": false}, "axis": {"values": [-1, 0, 1, 2, 3], "format": "d", "title": "Actual values"}}},
      "layer": [
        {"data": {"name": "fit"}, "transform": [{"filter": "datum.p == 'd'"}], "mark": {"type": "area", "opacity": 0.15},
         "encoding": {"y": {"field": "lo", "type": "quantitative", "scale": {"domain": [-2.01, 2.92], "nice": false, "zero": false}, "axis": {"values": [-2, -1, 0, 1, 2], "format": "d", "title": null}}, "y2": {"field": "hi"},
                      "fill": {"field": "s", "type": "nominal", "scale": {"range": ["#ff0000", "#008000", "#0000ff"]}, "legend": null}}},
        {"data": {"name": "fit"}, "transform": [{"filter": "datum.p == 'd'"}], "mark": {"type": "line", "strokeWidth": 2},
         "encoding": {"y": {"field": "fit", "type": "quantitative", "scale": {"domain": [-2.01, 2.92], "nice": false, "zero": false}, "axis": {"values": [-2, -1, 0, 1, 2], "format": "d", "title": null}},
                      "stroke": {"field": "s", "type": "nominal", "scale": {"range": ["#ff0000", "#008000", "#0000ff"]}, "legend": null}}},
        {"data": {"name": "pts"}, "transform": [{"filter": "datum.p == 'd'"}, {"fold": ["I", "II", "III"], "as": ["s", "y"]}], "mark": {"type": "circle", "size": 260, "opacity": 0.85},
         "encoding": {"y": {"field": "y", "type": "quantitative", "scale": {"domain": [-2.01, 2.92], "nice": false, "zero": false}, "axis": {"values": [-2, -1, 0, 1, 2], "format": "d", "title": null}},
                      "color": {"field": "s", "type": "nominal", "scale": {"domain": ["I", "II", "III"], "range": ["#ff0000", "#008000", "#0000ff"]}, "legend": {"title": null, "labelExpr": "'Scenario ' + datum.label", "orient": "none", "legendX": 852, "legendY": 1660, "direction": "horizontal"}},
                      "order": {"field": "s"}}}
      ]
    }
  ],
  "resolve": {"scale": {"color": "shared", "fill": "shared", "stroke": "shared", "x": "independent", "y": "independent"}, "legend": {"color": "shared"}},
  "config": {
    "font": "Liberation Serif",
    "view": {"stroke": "black", "strokeWidth": 3},
    "axis": {
      "domain": false, "grid": false,
      "tickColor": "black", "tickWidth": 3, "tickSize": 14,
      "labelFont": "Liberation Serif", "labelFontSize": 47, "labelColor": "black", "labelPadding": 6,
      "titleFont": "Liberation Serif", "titleFontSize": 50, "titleFontWeight": "normal", "titleColor": "black"
    },
    "axisX": {"titlePadding": 16},
    "axisY": {"titlePadding": 24},
    "title": {"anchor": "start", "frame": "group", "font": "Liberation Serif", "fontSize": 56, "fontWeight": "normal", "color": "black", "offset": 12},
    "legend": {
      "symbolType": "circle", "symbolSize": 180, "symbolOpacity": 1, "symbolStrokeWidth": 0,
      "labelFont": "Liberation Serif", "labelFontSize": 35, "labelColor": "black", "labelOffset": 52, "labelLimit": 0,
      "columnPadding": 94, "strokeColor": "#cfcfcf", "strokeWidth": 3, "cornerRadius": 6, "padding": 14, "fillColor": "white"
    }
  }
}
